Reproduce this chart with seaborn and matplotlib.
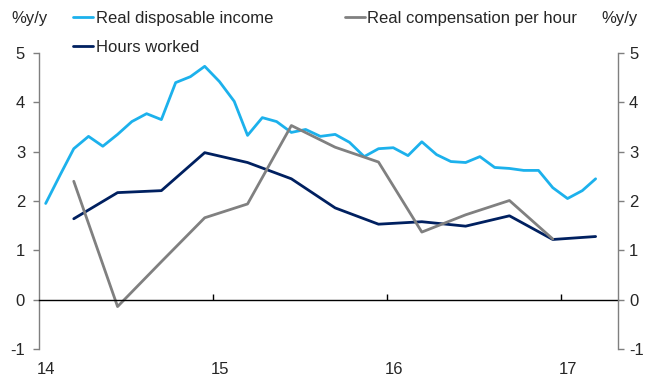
import matplotlib
matplotlib.use("Agg")
import matplotlib.pyplot as plt
import matplotlib.dates as mdates
import matplotlib.transforms as mtransforms
import pandas as pd
import seaborn as sns

# Monthly real disposable income growth, %y/y (Jan 2014 - Mar 2017)
income_values = [1.95, 2.54, 3.06, 3.31, 3.11, 3.35, 3.61, 3.77, 3.65, 4.40,
                 4.52, 4.73, 4.42, 4.02, 3.33, 3.69, 3.61, 3.39, 3.45, 3.31,
                 3.35, 3.19, 2.90, 3.06, 3.08, 2.92, 3.20, 2.94, 2.80, 2.78,
                 2.90, 2.68, 2.66, 2.62, 2.62, 2.27, 2.05, 2.21, 2.45]
income_start = "2014-01"

# Quarterly series, %y/y (first observation in March 2014)
hours_values = [1.64, 2.17, 2.21, 2.98, 2.78, 2.45, 1.86, 1.53, 1.58, 1.49,
                1.70, 1.22, 1.28]
comp_values = [2.40, -0.14, 0.77, 1.66, 1.94, 3.53, 3.09, 2.79, 1.37, 1.72,
               2.01, 1.23]
quarterly_start = "2014-03"

series_names = ["Real disposable income", "Hours worked",
                "Real compensation per hour"]
series_colors = ["#1CB1EC", "#002060", "#808080"]
year_ticks = ["2015-01-01", "2016-01-01", "2017-01-01"]
year_labels = ["14", "15", "16", "17"]
y_ticks = [-1, 0, 1, 2, 3, 4, 5]
unit_label = "%y/y"


def mid_month(start, n, step):
    first = pd.Period(start, freq="M")
    return [(first + step * k).to_timestamp() + pd.Timedelta(days=14)
            for k in range(n)]


frames = [
    pd.DataFrame({"date": mid_month(income_start, len(income_values), 1),
                  "value": income_values, "series": series_names[0]}),
    pd.DataFrame({"date": mid_month(quarterly_start, len(hours_values), 3),
                  "value": hours_values, "series": series_names[1]}),
    pd.DataFrame({"date": mid_month(quarterly_start, len(comp_values), 3),
                  "value": comp_values, "series": series_names[2]}),
]
df = pd.concat(frames, ignore_index=True)

sns.set_style("white")
plt.rcParams["font.family"] = ["Liberation Sans", "DejaVu Sans"]
FS = 12
plt.rcParams["font.size"] = FS

fig = plt.figure(figsize=(6.45, 3.78), dpi=100)
ax = fig.add_axes([39 / 645, 1 - 349 / 378, (618 - 39) / 645, (349 - 53) / 378])

palette = dict(zip(series_names, series_colors))
sns.lineplot(data=df, x="date", y="value", hue="series", hue_order=series_names,
             palette=palette, linewidth=2.0, ax=ax, legend=False)

x_min = pd.Timestamp("2014-01-01")
x_max = pd.Timestamp("2017-05-01")
ax.set_xlim(x_min, x_max)
ax.set_ylim(-1, 5)
ax.set_xlabel("")
ax.set_ylabel("")

spine_gray = "#7F7F7F"
ax.spines["top"].set_visible(False)
ax.spines["left"].set_color(spine_gray)
ax.spines["left"].set_linewidth(1.0)
ax.spines["right"].set_visible(False)

# zero line doubles as the x axis, with ticks pointing up
ax.spines["bottom"].set_position(("data", 0))
ax.spines["bottom"].set_color("black")
ax.spines["bottom"].set_linewidth(1.0)
ax.set_xticks([mdates.date2num(pd.Timestamp(t)) for t in year_ticks])
ax.tick_params(axis="x", direction="in", length=4, width=1, color="black",
               labelbottom=False, bottom=True)

ax.set_yticks(y_ticks)
ax.set_yticklabels([str(v) for v in y_ticks])
ax.tick_params(axis="y", direction="out", length=4, width=1, color=spine_gray,
               pad=6, labelsize=FS, left=True)

# right-hand axis
ax2 = ax.twinx()
ax2.set_ylim(-1, 5)
ax2.set_yticks(y_ticks)
ax2.set_yticklabels([str(v) for v in y_ticks])
for side in ["top", "bottom", "left"]:
    ax2.spines[side].set_visible(False)
ax2.spines["right"].set_color(spine_gray)
ax2.spines["right"].set_linewidth(1.0)
ax2.tick_params(axis="y", direction="out", length=4, width=1, color=spine_gray,
                pad=4, labelsize=FS, right=True)

# year labels below the plot area
secax = ax.secondary_xaxis("bottom")
secax.spines["bottom"].set_visible(False)
year_positions = [mdates.date2num(x_min)] + [mdates.date2num(pd.Timestamp(t))
                                              for t in year_ticks]
secax.set_xticks(year_positions)
secax.set_xticklabels(year_labels)
secax.tick_params(axis="x", length=0, pad=9, labelsize=FS)
offset = mtransforms.ScaledTranslation(7 / 100, 0, fig.dpi_scale_trans)
for lbl in secax.get_xticklabels():
    lbl.set_transform(lbl.get_transform() + offset)

# unit labels
fig.text(29 / 645, 1 - 19 / 378, unit_label, ha="center", va="center", fontsize=FS)
fig.text(619 / 645, 1 - 19 / 378, unit_label, ha="center", va="center", fontsize=FS)

# legend
handles = [plt.Line2D([], [], color=c, linewidth=2.0) for c in series_colors]
leg = fig.legend(handles, series_names, ncol=2, loc="upper left",
                 bbox_to_anchor=(68 / 645, 1 - 6 / 378), frameon=False,
                 handlelength=1.2, handletextpad=0.15, columnspacing=4.3,
                 labelspacing=0.85, borderaxespad=0, borderpad=0.3,
                 fontsize=FS)

fig.savefig("out.png", dpi=100)
